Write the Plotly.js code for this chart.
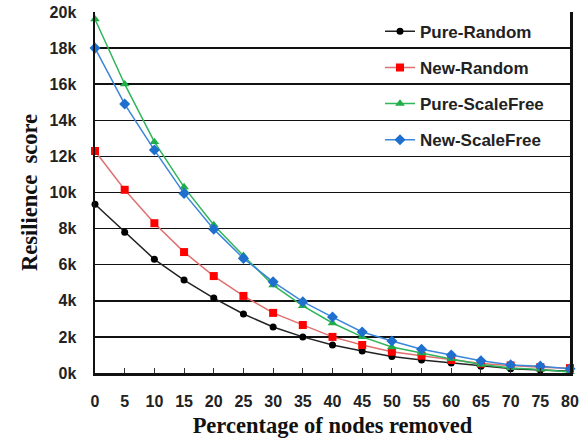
<!DOCTYPE html>
<html>
<head>
<meta charset="utf-8">
<script src="https://cdn.plot.ly/plotly-3.0.1.min.js"></script>
<style>html,body{margin:0;padding:0;background:#fff;}#chart{width:582px;height:439px;}</style>
</head>
<body>
<div id="chart"></div>
<script>
const percentRemoved = [0,5,10,15,20,25,30,35,40,45,50,55,60,65,70,75,80];
const pureRandom    = [9350,7800,6300,5150,4150,3270,2550,2000,1550,1220,920,720,550,380,240,170,100];
const newRandom     = [12300,10150,8300,6700,5370,4270,3330,2660,2000,1550,1180,960,720,520,420,320,270];
const pureScaleFree = [19600,16000,12800,10300,8200,6500,4870,3720,2770,2000,1440,1100,780,470,280,200,60];
const newScaleFree  = [18000,14900,12350,9950,7970,6350,5050,3950,3100,2270,1770,1320,1000,680,450,380,240];
const yTickVals = [0,2000,4000,6000,8000,10000,12000,14000,16000,18000,20000];
const yTickText = ["0k","2k","4k","6k","8k","10k","12k","14k","16k","18k","20k"];
const xTickVals = percentRemoved;

const traces = [
  {name:"Pure-Random", y:pureRandom, line:{color:"#222222", width:1.5}, marker:{color:"#000000", symbol:"circle", size:7}},
  {name:"New-Random", y:newRandom, line:{color:"#e07070", width:1.5}, marker:{color:"#ff0000", symbol:"square", size:8}},
  {name:"Pure-ScaleFree", y:pureScaleFree, line:{color:"#2fb55a", width:1.5}, marker:{color:"#1fae48", symbol:"triangle-up", size:8.5}},
  {name:"New-ScaleFree", y:newScaleFree, line:{color:"#3b86d8", width:1.5}, marker:{color:"#1f6fcf", symbol:"diamond", size:8.5}}
].map((t,i)=>Object.assign({x:percentRemoved, type:"scatter", mode:"lines+markers", legendgroup:"g"+i, cliponaxis:false}, t));

const tickFont = {family:"Liberation Sans, Arial, sans-serif", size:16, color:"#222", weight:"bold"};
const titleFont = {family:"Liberation Serif, Times New Roman, serif", size:22.5, color:"#111", weight:"bold"};

const layout = {
  width:582, height:439,
  margin:{l:95, r:12, t:12, b:66},
  paper_bgcolor:"#fff", plot_bgcolor:"#fff",
  showlegend:true,
  legend:{x:0.6, y:0.995, xanchor:"left", yanchor:"top", bgcolor:"rgba(0,0,0,0)", borderwidth:0,
          font:{family:"Liberation Sans, Arial, sans-serif", size:17, color:"#222", weight:"bold"},
          tracegroupgap:11, itemwidth:30},
  xaxis:{range:[0,80], tickvals:xTickVals, ticktext:xTickVals.map(String), tickfont:tickFont,
         showgrid:false, zeroline:false, showline:true, linecolor:"#111", linewidth:2.5, mirror:false,
         ticks:"inside", ticklen:5, tickcolor:"#333", tickwidth:1, tickangle:0, ticklabelstandoff:12,
         title:{text:"Percentage of nodes removed", font:titleFont, standoff:9}},
  yaxis:{range:[0,20000], tickvals:yTickVals, ticktext:yTickText, tickfont:tickFont,
         showgrid:true, gridcolor:"#111", gridwidth:1.5, zeroline:false,
         showline:true, linecolor:"#111", linewidth:2.5, mirror:true, ticks:"", ticklabelstandoff:13,
         title:{text:"Resilience  score", font:titleFont, standoff:6}}
};

Plotly.newPlot("chart", traces, layout, {staticPlot:true, displayModeBar:false});
</script>
</body>
</html>
